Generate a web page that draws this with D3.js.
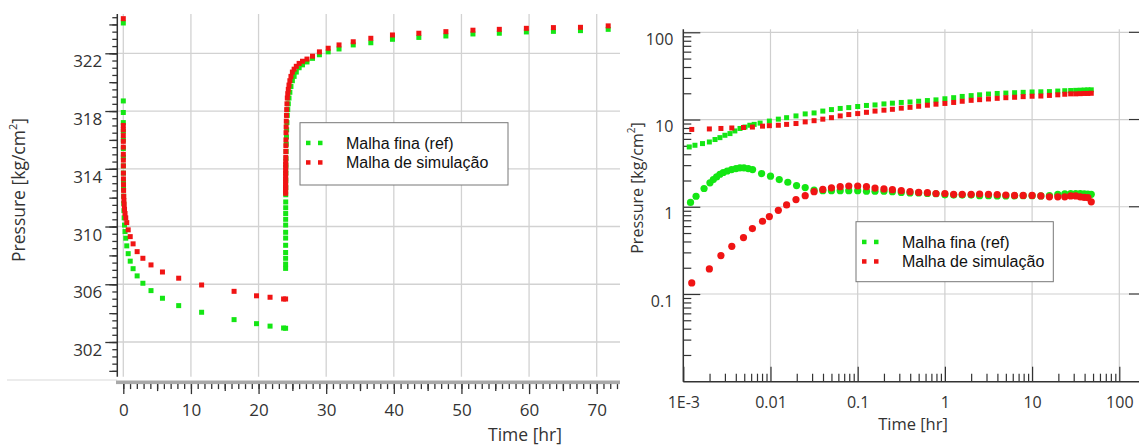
<!DOCTYPE html>
<html>
<head>
<meta charset="utf-8">
<script src="https://cdn.jsdelivr.net/npm/d3@7"></script>
<style>
  body { margin: 0; background: #fff; }
  svg { display: block; }
  .tick text, .lbl { font-family: "Open Sans", sans-serif; fill: #333; }
  .leg text { font-family: "Liberation Sans", Arial, sans-serif; fill: #111; font-size: 16px; }
</style>
</head>
<body>
<div id="chart"></div>
<script>
// ---- Cartesian plot: drawdown then build-up (hr, kg/cm2) ----
const ddTime = [0, 0.001, 0.0014, 0.002, 0.0028, 0.004, 0.0057, 0.008, 0.0113, 0.016, 0.0226, 0.032, 0.045,
  0.064, 0.09, 0.128, 0.181, 0.256, 0.362, 0.512, 0.724, 1.024, 1.448, 2.048, 2.896, 4.096, 5.79, 8.19,
  11.58, 16.38, 19.7, 21.7, 23.7, 24.0];
const ddFine = [324.1, 318.7, 317.9, 317.2, 316.6, 316.0, 315.4, 314.8, 314.2, 313.7, 313.1, 312.6, 312.1,
  311.6, 311.1, 310.6, 310.1, 309.65, 309.19, 308.66, 308.12, 307.6, 307.08, 306.58, 306.07, 305.56, 305.03,
  304.52, 304.06, 303.55, 303.27, 303.1, 302.97, 302.95];
const ddSim = [324.4, 317.0, 316.7, 316.3, 315.9, 315.5, 315.0, 314.6, 314.2, 313.7, 313.3, 312.9, 312.5,
  312.1, 311.8, 311.5, 311.2, 310.9, 310.6, 310.27, 309.77, 309.3, 308.8, 308.26, 307.8, 307.34, 306.85,
  306.42, 305.95, 305.51, 305.2, 305.1, 304.98, 304.98];

const shutInTime = 24;
const earlyDt = [0.00125, 0.0016, 0.002, 0.0025, 0.0032, 0.004, 0.005, 0.0063, 0.0079, 0.01, 0.0126, 0.0158, 0.02];
const lateDt = [0.025, 0.0316, 0.0398, 0.05, 0.063, 0.079, 0.1, 0.126, 0.158, 0.2, 0.25, 0.316, 0.398, 0.5,
  0.63, 0.79, 1.0, 1.26, 1.58, 2.0, 2.5, 3.16, 3.98, 5.0, 6.3, 7.9, 10, 12.6, 15.8, 19.7, 23.7, 27.7, 31.6,
  35.6, 39.6, 43.6, 47.7];
const buDt = earlyDt.concat(lateDt);
const buFine = [307.1, 307.4, 307.8, 308.2, 308.7, 309.2, 309.6, 310.1, 310.5, 310.9, 311.3, 311.7, 312.2,
  312.7, 313.2, 313.7, 314.2, 314.7, 315.2, 315.7, 316.2, 316.7, 317.2, 317.7, 318.1, 318.5, 318.9, 319.3,
  319.7, 320.1, 320.4, 320.7, 321.0, 321.2, 321.4, 321.65, 321.9, 322.1, 322.3, 322.58, 322.73, 322.97,
  323.1, 323.2, 323.34, 323.39, 323.48, 323.52, 323.57, 323.66];
const buSim = [312.3, 312.45, 312.6, 312.75, 312.9, 313.1, 313.3, 313.5, 313.7, 313.9, 314.1, 314.3, 314.5,
  314.8, 315.2, 315.6, 316.0, 316.5, 316.9, 317.3, 317.7, 318.1, 318.5, 318.9, 319.2, 319.5, 319.8, 320.1,
  320.4, 320.7, 320.9, 321.1, 321.3, 321.45, 321.6, 321.8, 322.1, 322.35, 322.58, 322.8, 323.04, 323.27,
  323.39, 323.5, 323.6, 323.66, 323.73, 323.78, 323.8, 323.9];

// ---- log-log plot: build-up pressure change and derivative ----
const fineDpDt = [0.00117, 0.00136, 0.00166, 0.00199, 0.00231, 0.00263, 0.003, 0.00343, 0.0039, 0.00447,
  0.0051, 0.0058, 0.0065, 0.0076, 0.0097, 0.0123, 0.0153, 0.0196].concat(lateDt);
const fineDp = [4.85, 5.07, 5.3, 5.53, 5.9, 6.2, 6.6, 6.9, 7.4, 7.9, 8.2, 8.6, 8.8, 9.1, 9.6, 10.1, 10.5, 11.0,
  11.6, 11.9, 12.5, 13.0, 13.4, 13.7, 14.1, 14.5, 14.7, 15.1, 15.4, 15.7, 15.9, 16.2, 16.5, 16.8, 17.3, 17.8,
  18.4, 18.8, 19.2, 19.6, 19.9, 20.1, 20.3, 20.5, 20.7, 20.8, 20.9, 21.2, 21.4, 21.5, 21.6, 21.7, 21.8, 21.9, 21.9];
const fineDerDt = [0.00121, 0.0014, 0.00173, 0.00202, 0.00221, 0.00241, 0.00263, 0.00287, 0.00319, 0.00358,
  0.00402, 0.00446, 0.00496, 0.00556, 0.00623, 0.0079, 0.01, 0.0126, 0.0158, 0.0199].concat(lateDt);
const fineDer = [1.12, 1.32, 1.62, 1.88, 2.05, 2.2, 2.36, 2.47, 2.57, 2.67, 2.74, 2.79, 2.79, 2.74, 2.67, 2.4,
  2.24, 2.05, 1.91, 1.75,
  1.66, 1.55, 1.53, 1.53, 1.53, 1.53, 1.53, 1.51, 1.51, 1.51, 1.49, 1.46, 1.44, 1.44, 1.42, 1.41, 1.37, 1.36,
  1.36, 1.36, 1.34, 1.34, 1.33, 1.33, 1.33, 1.34, 1.34, 1.33, 1.34, 1.39, 1.41, 1.42, 1.42, 1.42, 1.41, 1.40, 1.39];
const simDt = [0.00125, 0.00199, 0.0027, 0.0036, 0.0049, 0.0062, 0.0081, 0.0097, 0.0123, 0.0153, 0.0196].concat(lateDt);
const simDp = [7.7, 7.8, 7.9, 8.0, 8.1, 8.2, 8.4, 8.5, 8.6, 8.8, 9.0,
  9.4, 9.7, 10.1, 10.5, 11.0, 11.4, 11.7, 12.1, 12.5, 12.8, 13.1, 13.5, 13.8, 14.2, 14.6, 15.0, 15.3, 15.7,
  16.2, 16.6, 16.9, 17.2, 17.5, 17.8, 18.0, 18.3, 18.5, 18.6, 18.9, 19.2, 19.5, 19.7, 19.7, 19.8, 19.9, 19.9, 20.0];
const simDer = [0.134, 0.194, 0.276, 0.352, 0.443, 0.562, 0.682, 0.771, 0.91, 1.05, 1.21,
  1.34, 1.49, 1.58, 1.65, 1.70, 1.73, 1.73, 1.70, 1.64, 1.60, 1.57, 1.53, 1.49, 1.46, 1.45, 1.42, 1.42, 1.39,
  1.39, 1.39, 1.40, 1.39, 1.38, 1.36, 1.35, 1.35, 1.35, 1.33, 1.30, 1.30, 1.30, 1.33, 1.33, 1.30, 1.28, 1.27, 1.14];

const cartXTicks = [0, 10, 20, 30, 40, 50, 60, 70];
const cartYTicks = [302, 306, 310, 314, 318, 322];
const logXTicks = [0.001, 0.01, 0.1, 1, 10, 100];
const logXLabels = ['1E-3', '0.01', '0.1', '1', '10', '100'];
const logYTicks = [0.1, 1, 10, 100];
const legendLabels = ['Malha fina (ref)', 'Malha de simulação'];
const seriesColors = ['#14e614', '#f01414'];

const W = 1139, H = 447;
const svg = d3.select('#chart').append('svg').attr('width', W).attr('height', H);

function squares(g, xs, ys, sx, sy, color) {
  g.append('g').selectAll('rect').data(xs).enter().append('rect')
    .attr('x', (d) => sx(d) - 2.5)
    .attr('y', (d, i) => sy(ys[i]) - 2.5)
    .attr('width', 5).attr('height', 5)
    .attr('fill', color);
}
function dots(g, xs, ys, sx, sy, color) {
  g.append('g').selectAll('circle').data(xs).enter().append('circle')
    .attr('cx', (d) => sx(d))
    .attr('cy', (d, i) => sy(ys[i]))
    .attr('r', 3.6)
    .attr('fill', color);
}
function legend(x, y, w, h) {
  const lg = svg.append('g').attr('class', 'leg').attr('transform', `translate(${x},${y})`);
  lg.append('rect').attr('width', w).attr('height', h).attr('fill', '#fff').attr('stroke', '#777').attr('stroke-width', 1);
  legendLabels.forEach((t, i) => {
    const ry = 20 + i * 19.5;
    [8, 20].forEach(dx => lg.append('rect').attr('x', dx - 2).attr('y', ry - 2)
      .attr('width', 4.5).attr('height', 4.5).attr('fill', seriesColors[i]));
    lg.append('text').attr('x', 46).attr('y', ry + 6).text(t);
  });
}

// ================= Cartesian panel =================
const cLeft = 117.3, cRight = 620, cTop = 14, cBottom = 376.7, cAxisY = 382.3;
const cx = d3.scaleLinear().domain([0, 70]).range([123.3, 596.7]);
const cy = d3.scaleLinear().domain([302, 322]).range([342, 53.3]);
const cg = svg.append('g');

cg.selectAll('.hg').data(cartYTicks).enter().append('line')
  .attr('x1', cLeft).attr('x2', cRight).attr('y1', d => cy(d)).attr('y2', d => cy(d))
  .attr('stroke', '#d2d2d2').attr('stroke-width', 1.3);
cg.selectAll('.vg').data(cartXTicks).enter().append('line')
  .attr('x1', d => cx(d)).attr('x2', d => cx(d)).attr('y1', cTop).attr('y2', cBottom)
  .attr('stroke', '#d2d2d2').attr('stroke-width', 1.3);

// faint leftover line left of the axis
cg.append('line').attr('x1', 7).attr('x2', cLeft).attr('y1', 380).attr('y2', 380)
  .attr('stroke', '#e6e6e6').attr('stroke-width', 1.5);

// y axis
const yMinor = d3.range(300, 324.6, 0.5);
cg.append('g').attr('transform', `translate(${cLeft},0)`)
  .call(d3.axisLeft(cy).tickValues(yMinor).tickSize(5).tickFormat(''))
  .call(g => g.select('.domain').remove());
cg.append('g').attr('transform', `translate(${cLeft},0)`)
  .call(d3.axisLeft(cy).tickValues(d3.range(300, 325, 2)).tickSize(8).tickFormat(''))
  .call(g => g.select('.domain').remove());
cg.append('g').attr('transform', `translate(${cLeft},0)`)
  .call(d3.axisLeft(cy).tickValues(cartYTicks).tickSize(12).tickPadding(3))
  .call(g => g.select('.domain').remove())
  .call(g => g.selectAll('text').attr('dy', 13.5).attr('font-size', 17));
cg.append('line').attr('x1', cLeft).attr('x2', cLeft).attr('y1', cTop).attr('y2', cBottom)
  .attr('stroke', '#333').attr('stroke-width', 1.5);
cg.selectAll('.tick line').attr('stroke', '#333').attr('stroke-width', 1.3);

// x axis
cg.append('rect').attr('x', 116).attr('y', cAxisY - 1.8).attr('width', cRight - 116).attr('height', 3.6).attr('fill', '#a9a9a9');
const xax = cg.append('g').attr('transform', `translate(0,${cAxisY + 1.8})`);
xax.append('g').call(d3.axisBottom(cx).tickValues(d3.range(0, 74, 1)).tickSize(5).tickFormat(''));
xax.append('g').call(d3.axisBottom(cx).tickValues(d3.range(5, 74, 10)).tickSize(7).tickFormat(''));
xax.append('g').call(d3.axisBottom(cx).tickValues(cartXTicks).tickSize(10).tickFormat(d3.format('d')))
  .call(g => g.selectAll('text').attr('y', 32).attr('dy', 0).attr('font-size', 17));
xax.selectAll('.domain').remove();
xax.selectAll('.tick line').attr('stroke', '#333').attr('stroke-width', 1.3);

cg.append('text').attr('class', 'lbl').attr('x', 525).attr('y', 441).attr('text-anchor', 'middle')
  .attr('font-size', 17.5).text('Time [hr]');
cg.append('text').attr('class', 'lbl').attr('transform', 'translate(18,190) rotate(-90)')
  .attr('text-anchor', 'middle').attr('dominant-baseline', 'central').attr('font-size', 17.5)
  .html('Pressure [kg/cm<tspan dy="-6" font-size="11">2</tspan><tspan dy="6">]</tspan>');

// series
squares(cg, ddTime, ddFine, cx, cy, seriesColors[0]);
squares(cg, buDt.map(d => shutInTime + d), buFine, cx, cy, seriesColors[0]);
squares(cg, ddTime, ddSim, cx, cy, seriesColors[1]);
squares(cg, buDt.map(d => shutInTime + d), buSim, cx, cy, seriesColors[1]);

legend(300, 122.7, 208, 62.3);

// ================= log-log panel =================
const lLeft = 683.3, lRight = 1139, lTop = 29.3, lBottom = 381.7;
const lx = d3.scaleLog().domain([1e-3, 100]).range([683.3, 1119.3]);
const ly = d3.scaleLog().domain([0.1, 100]).range([294, 32.3]);
const lg = svg.append('g');

lg.selectAll('.hg').data(logYTicks).enter().append('line')
  .attr('x1', lLeft).attr('x2', 1130).attr('y1', d => ly(d)).attr('y2', d => ly(d))
  .attr('stroke', '#cfcfcf').attr('stroke-width', 1.2);
lg.selectAll('.vg').data(logXTicks.slice(1)).enter().append('line')
  .attr('x1', d => lx(d)).attr('x2', d => lx(d)).attr('y1', lTop).attr('y2', lBottom)
  .attr('stroke', '#cfcfcf').attr('stroke-width', 1.2);

const minorOf = (lo, hi) => d3.range(Math.log10(lo), Math.log10(hi)).flatMap(e => d3.range(2, 10).map(m => m * Math.pow(10, e)));

// y axis: ticks inside, labels outside
lg.append('g').attr('transform', `translate(${lLeft},0)`)
  .call(d3.axisRight(ly).tickValues(minorOf(0.01, 100)).tickSize(8).tickFormat(''));
lg.append('g').attr('transform', `translate(${lLeft},0)`)
  .call(d3.axisRight(ly).tickValues(logYTicks).tickSize(17).tickFormat(''));
lg.append('g').attr('transform', `translate(${lLeft},0)`)
  .call(d3.axisLeft(ly).tickValues(logYTicks).tickSize(0).tickPadding(10).tickFormat(d => String(d)))
  .call(g => g.selectAll('text').attr('dy', 12).attr('font-size', 16));
// x axis: ticks inside, labels outside
lg.append('g').attr('transform', `translate(0,${lBottom})`)
  .call(d3.axisTop(lx).tickValues(minorOf(0.001, 100)).tickSize(8).tickFormat(''));
lg.append('g').attr('transform', `translate(0,${lBottom})`)
  .call(d3.axisTop(lx).tickValues(logXTicks).tickSize(15).tickFormat(''));
lg.append('g').attr('transform', `translate(0,${lBottom})`)
  .call(d3.axisBottom(lx).tickValues(logXTicks).tickSize(0).tickFormat((d, i) => logXLabels[i]))
  .call(g => g.selectAll('text').attr('y', 26).attr('dy', 0).attr('font-size', 16));
lg.selectAll('.domain').remove();
lg.selectAll('.tick line').attr('stroke', '#333').attr('stroke-width', 1.2);
// right edge ticks
lg.selectAll('.rt').data(logYTicks).enter().append('line')
  .attr('x1', 1129).attr('x2', lRight).attr('y1', d => ly(d)).attr('y2', d => ly(d))
  .attr('stroke', '#333').attr('stroke-width', 1.2);
lg.append('line').attr('x1', lLeft).attr('x2', lLeft).attr('y1', lTop).attr('y2', lBottom)
  .attr('stroke', '#333').attr('stroke-width', 1.5);
lg.append('line').attr('x1', lLeft).attr('x2', lRight).attr('y1', lBottom).attr('y2', lBottom)
  .attr('stroke', '#333').attr('stroke-width', 1.5);

lg.append('text').attr('class', 'lbl').attr('x', 913).attr('y', 430).attr('text-anchor', 'middle')
  .attr('font-size', 16.5).text('Time [hr]');
lg.append('text').attr('class', 'lbl').attr('transform', 'translate(637,188) rotate(-90)')
  .attr('text-anchor', 'middle').attr('dominant-baseline', 'central').attr('font-size', 16)
  .html('Pressure [kg/cm<tspan dy="-6" font-size="10">2</tspan><tspan dy="6">]</tspan>');

squares(lg, fineDpDt, fineDp, lx, ly, seriesColors[0]);
dots(lg, fineDerDt, fineDer, lx, ly, seriesColors[0]);
squares(lg, simDt, simDp, lx, ly, seriesColors[1]);
dots(lg, simDt, simDer, lx, ly, seriesColors[1]);

legend(856, 221.7, 197.3, 60);
</script>
</body>
</html>
